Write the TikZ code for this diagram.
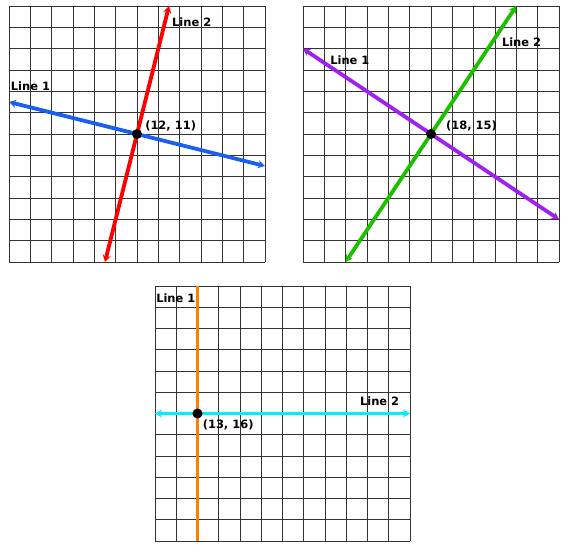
\documentclass[tikz,border=0pt]{standalone}
\usepackage{fontspec}
\setmainfont{DejaVu Sans}
\usetikzlibrary{arrows.meta}
\definecolor{lblue}{RGB}{25,95,240}
\definecolor{lred}{RGB}{255,0,0}
\definecolor{lpurple}{RGB}{160,32,240}
\definecolor{lgreen}{RGB}{30,190,0}
\definecolor{lorange}{RGB}{255,128,0}
\definecolor{lcyan}{RGB}{0,240,255}
\begin{document}
\begin{tikzpicture}[x=1bp,y=1bp,
  gridline/.style={black!80,line width=0.9bp},
  ray/.style={line width=3.8bp,{Stealth[length=7bp,width=8bp]}-{Stealth[length=7bp,width=8bp]}},
  plainray/.style={line width=3.8bp},
  dot/.style={circle,fill=black,inner sep=0pt,minimum size=10bp},
  lbl/.style={font=\bfseries\fontsize{11.5}{13}\selectfont,anchor=west,inner sep=0pt}]
\useasboundingbox (0,0) rectangle (570,-556);
% Panel 1
\begin{scope}[shift={(9,-262)},x=21.33bp,y=21.33bp]
  \draw[gridline,xstep=21.33bp,ystep=21.33bp] (0,0) grid (12,12);
  \coordinate (a1) at (0,7.5);
  \coordinate (a2) at (12,4.5);
  \coordinate (b1) at (4.5,0);
  \coordinate (b2) at (7.5,12);
  \draw[ray,lblue] (a1) -- (a2);
  \draw[ray,lred] (b1) -- (b2);
  \node[dot] (p1) at (6,6) {};
  \node[lbl] (l11) at (0.08,8.25) {Line 1};
  \node[lbl] (l12) at (7.64,11.25) {Line 2};
  \node[lbl] (c1) at (6.38,6.4) {(12, 11)};
\end{scope}
% Panel 2
\begin{scope}[shift={(303,-262)},x=21.33bp,y=21.33bp]
  \draw[gridline,xstep=21.33bp,ystep=21.33bp] (0,0) grid (12,12);
  \coordinate (d1) at (0,10);
  \coordinate (d2) at (12,2);
  \coordinate (e1) at (2,0);
  \coordinate (e2) at (10,12);
  \draw[ray,lpurple] (d1) -- (d2);
  \draw[ray,lgreen] (e1) -- (e2);
  \node[dot] (p2) at (6,6) {};
  \node[lbl] (l21) at (1.27,9.47) {Line 1};
  \node[lbl] (l22) at (9.32,10.28) {Line 2};
  \node[lbl] (c2) at (6.7,6.4) {(18, 15)};
\end{scope}
% Panel 3
\begin{scope}[shift={(155,-541)},x=21.25bp,y=21.25bp]
  \draw[gridline,xstep=21.25bp,ystep=21.25bp] (0,0) grid (12,12);
  \coordinate (f1) at (2,0);
  \coordinate (f2) at (2,12);
  \coordinate (g1) at (0,6);
  \coordinate (g2) at (12,6);
  \draw[plainray,lorange] (f1) -- (f2);
  \draw[ray,lcyan] (g1) -- (g2);
  \node[dot] (p3) at (2,6) {};
  \node[lbl] (l31) at (0.05,11.42) {Line 1};
  \node[lbl] (l32) at (9.64,6.6) {Line 2};
  \node[lbl] (c3) at (2.24,5.44) {(13, 16)};
\end{scope}
\end{tikzpicture}
\end{document}
